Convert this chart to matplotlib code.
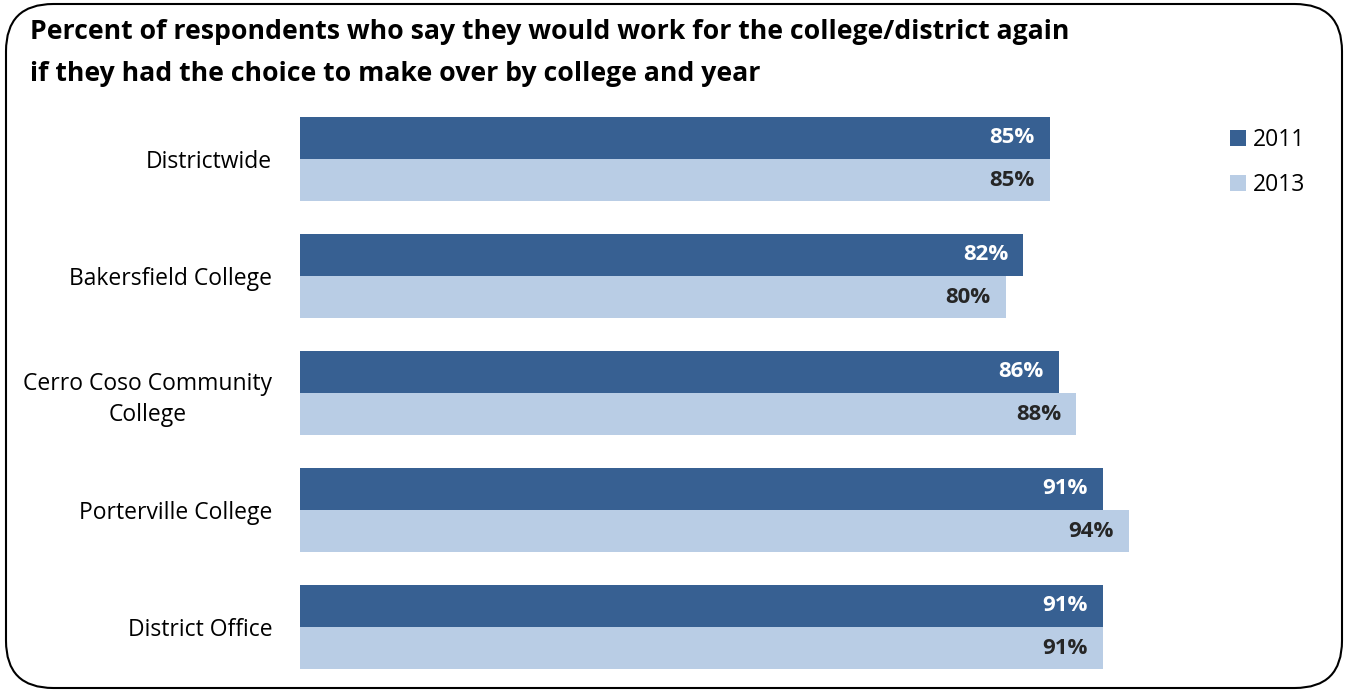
import matplotlib.pyplot as plt
import numpy as np
from matplotlib.patches import FancyBboxPatch

# data
colleges = ['Districtwide', 'Bakersfield College', 'Cerro Coso Community\nCollege',
            'Porterville College', 'District Office']
pct_2011 = [85, 82, 86, 91, 91]
pct_2013 = [85, 80, 88, 94, 91]
years = ['2011', '2013']

dark = '#376092'
light = '#B9CDE5'

plt.rcParams['font.family'] = ['Open Sans', 'DejaVu Sans']

fig = plt.figure(figsize=(13.49, 6.92), dpi=100)
W, H = 1349, 692

# rounded frame
frame = FancyBboxPatch((6 / W, 4 / H), 1336 / W, 684 / H,
                       boxstyle='round,pad=0,rounding_size=0.035',
                       transform=fig.transFigure, fill=False,
                       edgecolor='black', linewidth=1.5, mutation_aspect=W / H)
fig.patches.append(frame)

fig.text(30 / W, 1 - 19 / H,
         'Percent of respondents who say they would work for the college/district again\n'
         'if they had the choice to make over by college and year',
         fontsize=19.2, fontweight='bold', ha='left', va='top', linespacing=1.8)

ax = fig.add_axes([300 / W, 6.5 / H, 882 / W, 585 / H])
y = np.arange(len(colleges))
h = 0.359
b1 = ax.barh(y - h / 2, pct_2011, height=h, color=dark, label=years[0])
b2 = ax.barh(y + h / 2, pct_2013, height=h, color=light, label=years[1])

for bars, vals, col in [(b1, pct_2011, 'white'), (b2, pct_2013, '#262626')]:
    for bar, v in zip(bars, vals):
        ax.text(v - 1.7, bar.get_y() + bar.get_height() / 2, f'{v}%',
                ha='right', va='center', color=col, fontsize=16, fontweight='bold')

ax.set_xlim(0, 100)
ax.set_ylim(len(colleges) - 0.5, -0.5)
ax.set_yticks(y)
ax.set_yticklabels(colleges, fontsize=16.5, multialignment='center', linespacing=1.4)
ax.tick_params(axis='y', length=0, pad=20)
ax.set_xticks([])
for s in ax.spines.values():
    s.set_visible(False)

leg = fig.legend(handles=[b1, b2], labels=years, loc='upper left',
                 bbox_to_anchor=(1209 / W, 1 - 107 / H), frameon=False,
                 fontsize=16.5, handlelength=0.7, handleheight=0.7,
                 handletextpad=0.3, labelspacing=0.95)

fig.savefig('out.png', dpi=100)
